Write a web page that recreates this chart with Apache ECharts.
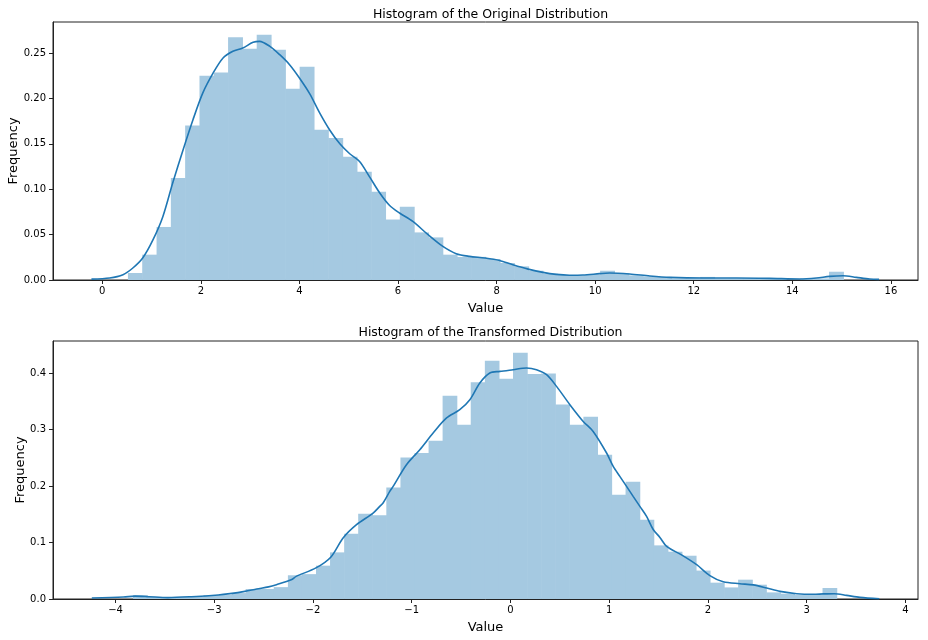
<!DOCTYPE html>
<html><head><meta charset="utf-8">
<script src="https://cdn.jsdelivr.net/npm/echarts@6/dist/echarts.min.js"></script>
<style>html,body{margin:0;padding:0;background:#fff}#c{width:928px;height:640px}</style>
</head><body><div id="c"></div>
<script>
// ---------- data: original distribution ----------
const origBinEdges = [0.520, 0.810, 1.101, 1.391, 1.681, 1.972, 2.262, 2.552, 2.842, 3.133,
  3.423, 3.713, 4.004, 4.294, 4.584, 4.875, 5.165, 5.455, 5.745, 6.036,
  6.326, 6.616, 6.907, 7.197, 7.487, 7.778, 8.068, 8.358, 8.648, 8.939,
  9.229, 9.519, 9.810, 10.100, 10.390, 10.681, 10.971, 11.261, 11.551, 11.842,
  12.132, 12.422, 12.713, 13.003, 13.293, 13.584, 13.874, 14.164, 14.454, 14.745, 15.035];
const origBinHeights = [0.0077, 0.0279, 0.0584, 0.1123, 0.170, 0.225, 0.2286, 0.2672, 0.2547, 0.2701,
  0.2536, 0.2107, 0.2349, 0.1655, 0.1565, 0.1358, 0.1193, 0.0972, 0.0666, 0.0807,
  0.0524, 0.0469, 0.0279, 0.0253, 0.0255, 0.0231, 0.0187, 0.0150, 0.0102, 0.0070,
  0.0055, 0.0052, 0.0060, 0.0102, 0.0073, 0.0051, 0.0040, 0.0034, 0.0017, 0.0017,
  0.0034, 0.0017, 0.0017, 0.0017, 0.0017, 0.0017, 0.0, 0.0017, 0.0017, 0.0091];
const origKdeX = [-0.22, 0.15, 0.42, 0.62, 0.82, 1.03, 1.23, 1.43, 1.64, 1.84,
  2.04, 2.25, 2.45, 2.65, 2.85, 3.06, 3.19, 3.40, 3.60, 3.80,
  4.00, 4.21, 4.41, 4.61, 4.82, 5.02, 5.22, 5.43, 5.63, 5.83,
  6.03, 6.30, 6.61, 6.91, 7.18, 7.45, 7.76, 8.06, 8.33, 8.64,
  8.94, 9.21, 9.48, 9.75, 10.09, 10.29, 10.70, 11.11, 11.52, 12.19,
  12.87, 13.54, 14.15, 14.49, 14.76, 15.03, 15.30, 15.57, 15.76];
const origKdeY = [0.0010, 0.0022, 0.0058, 0.0132, 0.0242, 0.0444, 0.0700, 0.1070, 0.1435, 0.1765,
  0.2060, 0.2280, 0.2445, 0.2518, 0.2555, 0.2617, 0.2628, 0.2573, 0.2481, 0.2371,
  0.2225, 0.2050, 0.1840, 0.1655, 0.1500, 0.1390, 0.1306, 0.1130, 0.0958, 0.0820,
  0.0738, 0.0645, 0.0499, 0.0370, 0.0290, 0.0260, 0.0242, 0.0215, 0.0168, 0.0120,
  0.0084, 0.0062, 0.0053, 0.0055, 0.0070, 0.0077, 0.0066, 0.0044, 0.0029, 0.0022,
  0.0022, 0.0018, 0.0011, 0.0022, 0.0040, 0.0047, 0.0029, 0.0011, 0.0007];
const origXTicks = [0, 2, 4, 6, 8, 10, 12, 14, 16];
const origYTicks = [0, 0.05, 0.10, 0.15, 0.20, 0.25];

// ---------- data: transformed distribution ----------
const transBinEdges = [-3.822, -3.679, -3.537, -3.394, -3.252, -3.109, -2.967, -2.824, -2.682, -2.539,
  -2.397, -2.254, -2.112, -1.969, -1.827, -1.684, -1.542, -1.399, -1.257, -1.114,
  -0.972, -0.829, -0.687, -0.544, -0.402, -0.259, -0.117, 0.026, 0.169, 0.311,
  0.454, 0.596, 0.739, 0.881, 1.024, 1.166, 1.309, 1.451, 1.594, 1.736,
  1.879, 2.021, 2.164, 2.306, 2.449, 2.591, 2.734, 2.876, 3.019, 3.161, 3.304];
const transBinHeights = [0.0070, 0.0035, 0.0035, 0.0035, 0.0035, 0.0070, 0.0070, 0.0105, 0.0177, 0.0177,
  0.0210, 0.0420, 0.0440, 0.0590, 0.0825, 0.1156, 0.1510, 0.1480, 0.1975, 0.2506,
  0.2584, 0.2802, 0.3598, 0.3085, 0.3834, 0.4218, 0.3900, 0.4360, 0.3980, 0.3993,
  0.3440, 0.3085, 0.3227, 0.2554, 0.1846, 0.2076, 0.1404, 0.0949, 0.0837, 0.0766,
  0.0503, 0.0289, 0.0205, 0.0342, 0.0253, 0.0117, 0.0094, 0.0070, 0.0070, 0.0195];
const transKdeX = [-4.24, -3.92, -3.80, -3.66, -3.47, -3.23, -2.96, -2.84, -2.69, -2.57,
  -2.45, -2.37, -2.22, -2.17, -1.97, -1.82, -1.695, -1.559, -1.391, -1.323,
  -1.29, -1.222, -1.188, -1.053, -0.918, -0.783, -0.647, -0.513, -0.411, -0.310,
  -0.209, -0.107, 0.027, 0.163, 0.264, 0.366, 0.467, 0.602, 0.737, 0.838,
  0.974, 1.041, 1.108, 1.176, 1.243, 1.311, 1.379, 1.446, 1.514, 1.582,
  1.733, 1.886, 2.020, 2.155, 2.324, 2.459, 2.595, 2.730, 2.899, 3.067,
  3.170, 3.280, 3.405, 3.540, 3.736];
const transKdeY = [0.0018, 0.0035, 0.0050, 0.0040, 0.0025, 0.0041, 0.0071, 0.0095, 0.0135, 0.0177,
  0.0215, 0.0253, 0.0340, 0.0400, 0.0550, 0.0740, 0.1080, 0.1315, 0.1520, 0.1640,
  0.1700, 0.1904, 0.1993, 0.2377, 0.2642, 0.2938, 0.3204, 0.3350, 0.3527, 0.3823,
  0.4000, 0.4028, 0.4058, 0.4088, 0.4058, 0.3970, 0.3763, 0.3439, 0.3143, 0.2966,
  0.2584, 0.2347, 0.2170, 0.1993, 0.1816, 0.1639, 0.1462, 0.1230, 0.1090, 0.0931,
  0.0780, 0.0607, 0.0415, 0.0305, 0.0271, 0.0250, 0.0195, 0.0135, 0.0094, 0.0083,
  0.0090, 0.0094, 0.0064, 0.0029, 0.0005];
const transXTicks = [-4, -3, -2, -1, 0, 1, 2, 3, 4];
const transYTicks = [0, 0.1, 0.2, 0.3, 0.4];

const chartTitles = ['Histogram of the Original Distribution', 'Histogram of the Transformed Distribution'];
const xAxisName = 'Value';
const yAxisName = 'Frequency';

// ---------- build ----------
const FONT = 'DejaVu Sans';
const BAR_FILL = '#a5c9e1';
const LINE = '#1f77b4';

function binsToData(edges, heights) {
  return heights.map((h, i) => [edges[i], edges[i + 1], h]);
}
function zip(xs, ys) { return xs.map((x, i) => [x, ys[i]]); }
function fmtNum(v, d) {
  const s = Math.abs(v).toFixed(d);
  return v < 0 ? '\u2212' + s : s;
}
function renderBar(params, api) {
  const p0 = api.coord([api.value(0), api.value(2)]);
  const p1 = api.coord([api.value(1), 0]);
  return {
    type: 'rect',
    shape: { x: p0[0], y: p0[1], width: p1[0] - p0[0] + 0.6, height: p1[1] - p0[1] },
    style: { fill: BAR_FILL }
  };
}
function xAxisCfg(gi, min, max, ticks, dec) {
  return {
    type: 'value', gridIndex: gi, min: min, max: max,
    name: xAxisName, nameLocation: 'middle', nameGap: 22, nameMoveOverlap: false,
    nameTextStyle: { fontFamily: FONT, fontSize: 13, color: '#000' },
    axisLine: { show: true, onZero: false, lineStyle: { color: '#222', width: 1 } },
    axisTick: { show: true, inside: false, length: 4, customValues: ticks, lineStyle: { color: '#222', width: 1 } },
    axisLabel: { show: true, margin: 6, fontFamily: FONT, fontSize: 10, color: '#000',
      customValues: ticks, formatter: v => fmtNum(v, dec) },
    splitLine: { show: false }
  };
}
function yAxisCfg(gi, max, ticks, dec, gap) {
  return {
    type: 'value', gridIndex: gi, min: 0, max: max,
    name: yAxisName, nameLocation: 'middle', nameGap: gap, nameMoveOverlap: false,
    nameTextStyle: { fontFamily: FONT, fontSize: 13, color: '#000' },
    axisLine: { show: true, onZero: false, lineStyle: { color: '#222', width: 1 } },
    axisTick: { show: true, inside: false, length: 4, customValues: ticks, lineStyle: { color: '#222', width: 1 } },
    axisLabel: { show: true, margin: 7, fontFamily: FONT, fontSize: 10, color: '#000',
      customValues: ticks, formatter: v => fmtNum(v, dec) },
    splitLine: { show: false }
  };
}

const chart = echarts.init(document.getElementById('c'), null, { renderer: 'canvas' });
chart.setOption({
  animation: false,
  backgroundColor: '#fff',
  title: [
    { text: chartTitles[0], left: 485.5, top: 3, textAlign: 'center',
      textStyle: { fontFamily: FONT, fontSize: 12.5, fontWeight: 'normal', color: '#000' } },
    { text: chartTitles[1], left: 485.5, top: 321, textAlign: 'center',
      textStyle: { fontFamily: FONT, fontSize: 12.5, fontWeight: 'normal', color: '#000' } }
  ],
  grid: [
    { left: 53, right: 10, top: 22, height: 258, show: true, borderColor: '#222', borderWidth: 1,
      backgroundColor: 'transparent', outerBoundsMode: 'none', containLabel: false },
    { left: 53, right: 10, top: 341, height: 258, show: true, borderColor: '#222', borderWidth: 1,
      backgroundColor: 'transparent', outerBoundsMode: 'none', containLabel: false }
  ],
  xAxis: [
    xAxisCfg(0, -1.0, 16.55, origXTicks, 0),
    xAxisCfg(1, -4.633, 4.128, transXTicks, 0)
  ],
  yAxis: [
    yAxisCfg(0, 0.2841, origYTicks, 2, 33),
    yAxisCfg(1, 0.4566, transYTicks, 1, 26)
  ],
  series: [
    { type: 'custom', xAxisIndex: 0, yAxisIndex: 0, renderItem: renderBar,
      encode: { x: [0, 1], y: 2 }, data: binsToData(origBinEdges, origBinHeights), z: 1 },
    { type: 'line', xAxisIndex: 0, yAxisIndex: 0, data: zip(origKdeX, origKdeY),
      showSymbol: false, smooth: 0.3, lineStyle: { color: LINE, width: 1.6 }, z: 2 },
    { type: 'custom', xAxisIndex: 1, yAxisIndex: 1, renderItem: renderBar,
      encode: { x: [0, 1], y: 2 }, data: binsToData(transBinEdges, transBinHeights), z: 1 },
    { type: 'line', xAxisIndex: 1, yAxisIndex: 1, data: zip(transKdeX, transKdeY),
      showSymbol: false, smooth: 0.3, lineStyle: { color: LINE, width: 1.6 }, z: 2 }
  ]
});
</script>
</body></html>
